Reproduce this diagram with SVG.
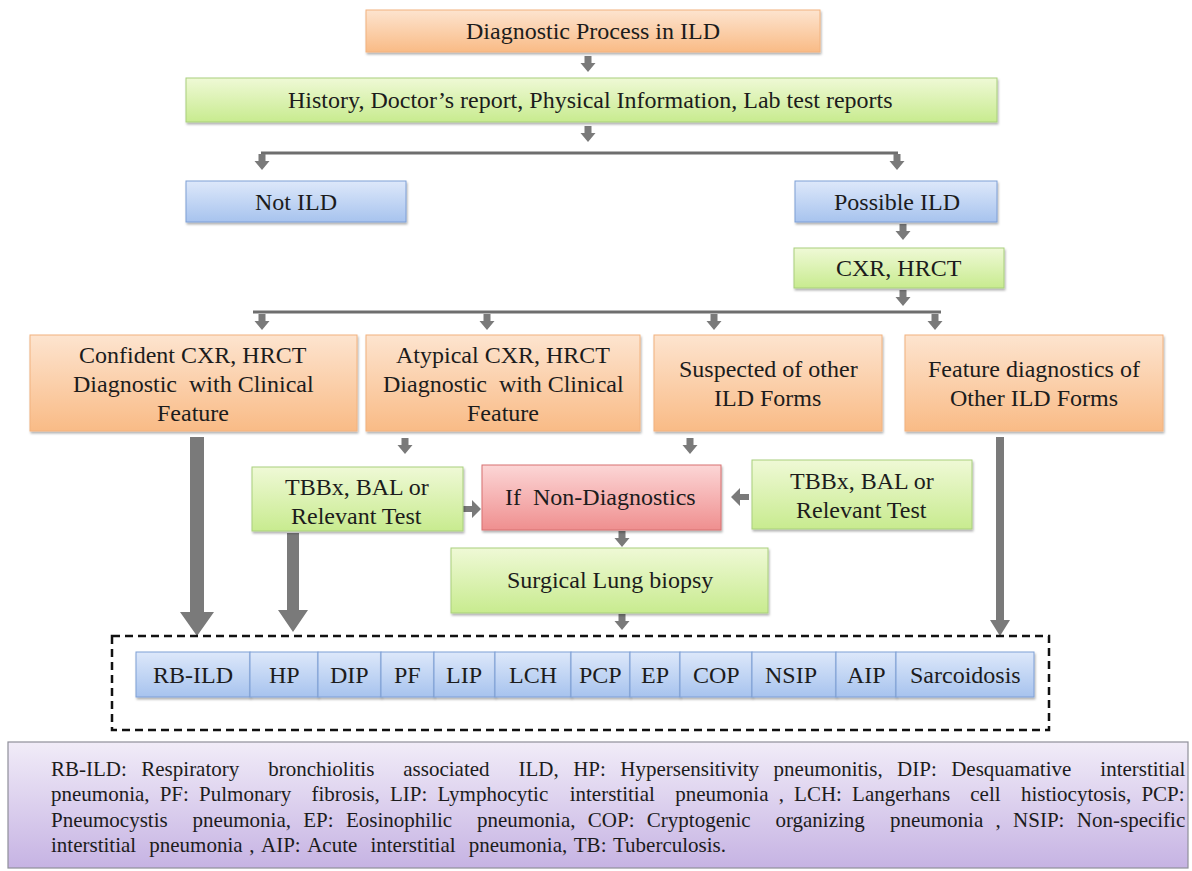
<svg xmlns="http://www.w3.org/2000/svg" width="1192" height="871" viewBox="0 0 1192 871">
  <defs>
    <linearGradient id="gOrange" x1="0" y1="0" x2="0" y2="1">
      <stop offset="0" stop-color="#fde4cf"/>
      <stop offset="1" stop-color="#f9bb86"/>
    </linearGradient>
    <linearGradient id="gGreen" x1="0" y1="0" x2="0" y2="1">
      <stop offset="0" stop-color="#eff9d6"/>
      <stop offset="1" stop-color="#c8eb8f"/>
    </linearGradient>
    <linearGradient id="gBlue" x1="0" y1="0" x2="0" y2="1">
      <stop offset="0" stop-color="#dde8fa"/>
      <stop offset="1" stop-color="#a7c3ee"/>
    </linearGradient>
    <linearGradient id="gRed" x1="0" y1="0" x2="0" y2="1">
      <stop offset="0" stop-color="#fcd6d6"/>
      <stop offset="1" stop-color="#ef8f8f"/>
    </linearGradient>
    <linearGradient id="gPurple" x1="0" y1="0" x2="0" y2="1">
      <stop offset="0" stop-color="#f1ecf8"/>
      <stop offset="1" stop-color="#c6b3e3"/>
    </linearGradient>
    <filter id="shadow" x="-5%" y="-10%" width="110%" height="130%">
      <feDropShadow dx="1" dy="2" stdDeviation="1.2" flood-color="#000" flood-opacity="0.3"/>
    </filter>
    <!-- small block arrow pointing down, tip at (0,16) -->
    <path id="arrowDown" d="M-3.5,0 H3.5 V7 H7.5 L0,16 L-7.5,7 H-3.5 Z"/>
  </defs>
  <style>
    text { fill: #1c1c1c; text-anchor: start; }
    .lbl { font-size: 24px; }
    .legend { font-size: 21px; }
    .orange { fill: url(#gOrange); stroke: #f2b27e; stroke-width: 1; filter: url(#shadow); }
    .green { fill: url(#gGreen); stroke: #a9cf7c; stroke-width: 1; filter: url(#shadow); }
    .blue { fill: url(#gBlue); stroke: #7e9fd6; stroke-width: 1; filter: url(#shadow); }
    .red { fill: url(#gRed); stroke: #d77070; stroke-width: 1; filter: url(#shadow); }
    .conn { fill: #7a7a7a; }
    .line { stroke: #6e6e6e; stroke-width: 3; fill: none; }
  </style>

  <rect width="1192" height="871" fill="#ffffff"/>

  <!-- connectors -->
  <g id="connectors">
    <use href="#arrowDown" class="conn" x="588" y="56"/>
    <use href="#arrowDown" class="conn" x="588" y="126"/>
    <path class="line" d="M261,153 H898"/>
    <use href="#arrowDown" class="conn" x="262" y="154"/>
    <use href="#arrowDown" class="conn" x="897" y="154"/>
    <use href="#arrowDown" class="conn" x="903" y="224"/>
    <use href="#arrowDown" class="conn" x="903" y="290"/>
    <path class="line" d="M253,312 H941"/>
    <use href="#arrowDown" class="conn" x="262" y="314"/>
    <use href="#arrowDown" class="conn" x="487" y="314"/>
    <use href="#arrowDown" class="conn" x="714" y="314"/>
    <use href="#arrowDown" class="conn" x="935" y="314"/>
    <!-- long arrows into the result row -->
    <path class="conn" d="M190,437 H204 V612 H214 L197,636 L180,612 H190 Z"/>
    <path class="conn" d="M287,533 H299 V610 H308 L293,632 L278,610 H287 Z"/>
    <path class="conn" d="M996,437 H1004 V620 H1010 L1000,636 L990,620 H996 Z"/>
    <!-- short arrows toward the tests -->
    <use href="#arrowDown" class="conn" x="405" y="438"/>
    <use href="#arrowDown" class="conn" x="690" y="438"/>
    <path class="conn" d="M463,506 H472 V500 L481,509 L472,518 V512 H463 Z"/>
    <path class="conn" d="M749,494 H740 V488 L731,497 L740,506 V500 H749 Z"/>
    <use href="#arrowDown" class="conn" x="622" y="531"/>
    <use href="#arrowDown" class="conn" x="622" y="614"/>
  </g>

  <g font-family="Liberation Serif, Times New Roman, Tinos, DejaVu Serif, serif">
  <g id="node-title">
    <rect class="orange" x="366" y="10" width="454" height="42"/>
    <text class="lbl"><tspan x="466" y="39">Diagnostic Process in ILD</tspan></text>
  </g>
  <g id="node-history">
    <rect class="green" x="186" y="78" width="811" height="44"/>
    <text class="lbl"><tspan x="288" y="108">History, Doctor’s report, Physical Information, Lab test reports</tspan></text>
  </g>
  <g id="node-not-ild">
    <rect class="blue" x="186" y="181" width="220" height="41"/>
    <text class="lbl"><tspan x="255" y="210">Not ILD</tspan></text>
  </g>
  <g id="node-possible-ild">
    <rect class="blue" x="795" y="181" width="202" height="41"/>
    <text class="lbl"><tspan x="834" y="210">Possible ILD</tspan></text>
  </g>
  <g id="node-cxr">
    <rect class="green" x="794" y="248" width="210" height="40"/>
    <text class="lbl"><tspan x="836" y="276">CXR, HRCT</tspan></text>
  </g>
  <g id="node-confident">
    <rect class="orange" x="30" y="335" width="327" height="96"/>
    <text class="lbl"><tspan x="79" y="363">Confident CXR, HRCT</tspan><tspan x="73" y="392">Diagnostic&#160; with Clinical</tspan><tspan x="157" y="421">Feature</tspan></text>
  </g>
  <g id="node-atypical">
    <rect class="orange" x="366" y="335" width="274" height="96"/>
    <text class="lbl"><tspan x="396" y="363">Atypical CXR, HRCT</tspan><tspan x="383" y="392">Diagnostic&#160; with Clinical</tspan><tspan x="467" y="421">Feature</tspan></text>
  </g>
  <g id="node-suspected">
    <rect class="orange" x="654" y="335" width="228" height="96"/>
    <text class="lbl"><tspan x="679" y="377">Suspected of other</tspan><tspan x="714" y="406">ILD Forms</tspan></text>
  </g>
  <g id="node-feature">
    <rect class="orange" x="905" y="335" width="258" height="96"/>
    <text class="lbl"><tspan x="928" y="377">Feature diagnostics of</tspan><tspan x="950" y="406">Other ILD Forms</tspan></text>
  </g>
  <g id="node-tbbx-left">
    <rect class="green" x="252" y="467" width="211" height="64"/>
    <text class="lbl"><tspan x="285" y="495">TBBx, BAL or</tspan><tspan x="291" y="524">Relevant Test</tspan></text>
  </g>
  <g id="node-non-diagnostic">
    <rect class="red" x="482" y="465" width="239" height="65"/>
    <text class="lbl"><tspan x="505" y="505">If&#160; Non-Diagnostics</tspan></text>
  </g>
  <g id="node-tbbx-right">
    <rect class="green" x="752" y="460" width="220" height="69"/>
    <text class="lbl"><tspan x="790" y="489">TBBx, BAL or</tspan><tspan x="796" y="518">Relevant Test</tspan></text>
  </g>
  <g id="node-surgical">
    <rect class="green" x="451" y="548" width="317" height="65"/>
    <text class="lbl"><tspan x="507" y="588">Surgical Lung biopsy</tspan></text>
  </g>

  <g id="node-results">
    <rect x="112" y="636" width="937" height="94" fill="none" stroke="#111" stroke-width="2.5" stroke-dasharray="8 5"/>
    <g id="cells">
      <rect class="blue" x="136" y="652" width="114" height="45"/>
      <rect class="blue" x="250" y="652" width="68" height="45"/>
      <rect class="blue" x="318" y="652" width="63" height="45"/>
      <rect class="blue" x="381" y="652" width="53" height="45"/>
      <rect class="blue" x="434" y="652" width="61" height="45"/>
      <rect class="blue" x="495" y="652" width="76" height="45"/>
      <rect class="blue" x="571" y="652" width="59" height="45"/>
      <rect class="blue" x="630" y="652" width="50" height="45"/>
      <rect class="blue" x="680" y="652" width="72" height="45"/>
      <rect class="blue" x="752" y="652" width="84" height="45"/>
      <rect class="blue" x="836" y="652" width="60" height="45"/>
      <rect class="blue" x="896" y="652" width="138" height="45"/>
      <text class="lbl"><tspan x="153" y="683">RB-ILD</tspan></text>
      <text class="lbl"><tspan x="269" y="683">HP</tspan></text>
      <text class="lbl"><tspan x="330" y="683">DIP</tspan></text>
      <text class="lbl"><tspan x="394" y="683">PF</tspan></text>
      <text class="lbl"><tspan x="446" y="683">LIP</tspan></text>
      <text class="lbl"><tspan x="509" y="683">LCH</tspan></text>
      <text class="lbl"><tspan x="579" y="683">PCP</tspan></text>
      <text class="lbl"><tspan x="641" y="683">EP</tspan></text>
      <text class="lbl"><tspan x="693" y="683">COP</tspan></text>
      <text class="lbl"><tspan x="765" y="683">NSIP</tspan></text>
      <text class="lbl"><tspan x="847" y="683">AIP</tspan></text>
      <text class="lbl"><tspan x="910" y="683">Sarcoidosis</tspan></text>
    </g>
  </g>

  <g id="node-legend">
    <rect x="8" y="742" width="1180" height="126" fill="url(#gPurple)" stroke="#8f8f9a" stroke-width="1.2"/>
    <!-- justified lines: each word placed at its own x -->
    <text class="legend" y="776"><tspan x="51">RB-ILD:</tspan><tspan x="141.3">Respiratory</tspan><tspan x="268.2">bronchiolitis</tspan><tspan x="403.3">associated</tspan><tspan x="518.5">ILD,</tspan><tspan x="573.2">HP:</tspan><tspan x="620.3">Hypersensitivity</tspan><tspan x="773.6">pneumonitis,</tspan><tspan x="897.1">DIP:</tspan><tspan x="951.2">Desquamative</tspan><tspan x="1100.3">interstitial</tspan></text>
    <text class="legend" y="801"><tspan x="51">pneumonia,</tspan><tspan x="159.7">PF:</tspan><tspan x="199.1">Pulmonary</tspan><tspan x="311.5">fibrosis,</tspan><tspan x="389.9">LIP:</tspan><tspan x="437.4">Lymphocytic</tspan><tspan x="569.7">interstitial</tspan><tspan x="675.2">pneumonia</tspan><tspan x="778.7">,</tspan><tspan x="794.1">LCH:</tspan><tspan x="852.1">Langerhans</tspan><tspan x="970.3">cell</tspan><tspan x="1020.9">histiocytosis,</tspan><tspan x="1141.4">PCP:</tspan></text>
    <text class="legend" y="827"><tspan x="51">Pneumocystis</tspan><tspan x="192.4">pneumonia,</tspan><tspan x="303.3">EP:</tspan><tspan x="346">Eosinophilic</tspan><tspan x="476.9">pneumonia,</tspan><tspan x="587.8">COP:</tspan><tspan x="646.8">Cryptogenic</tspan><tspan x="775.4">organizing</tspan><tspan x="889.9">pneumonia</tspan><tspan x="995.5">,</tspan><tspan x="1013.1">NSIP:</tspan><tspan x="1076.8">Non-specific</tspan></text>
    <text class="legend" y="852"><tspan x="51">interstitial</tspan><tspan x="149.3">pneumonia</tspan><tspan x="249.2">,</tspan><tspan x="261">AIP:</tspan><tspan x="307.2">Acute</tspan><tspan x="370.4">interstitial</tspan><tspan x="468.7">pneumonia,</tspan><tspan x="573.8">TB:</tspan><tspan x="613">Tuberculosis.</tspan></text>
  </g>
  </g>
</svg>
